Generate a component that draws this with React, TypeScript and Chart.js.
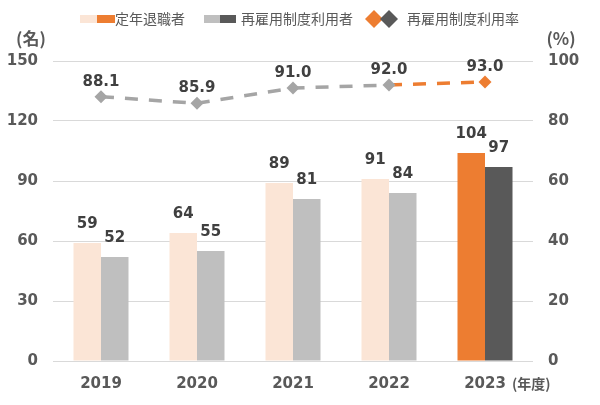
import React, { useEffect, useRef } from 'react';
import { Chart, registerables } from 'chart.js';

Chart.register(...registerables);

const categories = ['2019', '2020', '2021', '2022', '2023'];
const retirees = [59, 64, 89, 91, 104];
const rehired = [52, 55, 81, 84, 97];
const rehireRate = [88.1, 85.9, 91.0, 92.0, 93.0];
const leftAxis = { min: 0, max: 150, step: 30 };
const rightAxis = { min: 0, max: 100, step: 20 };
const legendLabels = ['定年退職者', '再雇用制度利用者', '再雇用制度利用率'];

const PEACH = '#FBE5D6';
const ORANGE = '#ED7D31';
const LGRAY = '#BFBFBF';
const DGRAY = '#595959';
const LINEGRAY = '#A5A5A5';
const TEXT = '#595959';
const LABEL = '#404040';
const NUMFONT = '"DejaVu Sans", Verdana, sans-serif';
const JPFONT = '"Noto Sans CJK JP", "Noto Sans", sans-serif';

const last = categories.length - 1;

const overlay = {
  id: 'overlay',
  afterDatasetsDraw(chart: any) {
    const ctx = chart.ctx;
    ctx.save();
    ctx.fillStyle = LABEL;
    ctx.textAlign = 'center';
    ctx.textBaseline = 'middle';
    ctx.font = `bold 15px ${NUMFONT}`;
    [0, 1].forEach((di) => {
      const meta = chart.getDatasetMeta(di);
      const data = chart.data.datasets[di].data;
      meta.data.forEach((el: any, i: number) => {
        ctx.fillText(String(data[i]), el.x, el.y - 19);
      });
    });
    const lm = chart.getDatasetMeta(2);
    lm.data.forEach((el: any, i: number) => {
      ctx.fillText(rehireRate[i].toFixed(1), el.x, el.y - 15);
    });
    ctx.restore();
  },
  afterDraw(chart: any) {
    const ctx = chart.ctx;
    ctx.save();
    // legend
    ctx.fillStyle = PEACH;
    ctx.fillRect(80, 15, 17, 8);
    ctx.fillStyle = ORANGE;
    ctx.fillRect(97, 15, 18, 8);
    ctx.fillStyle = LGRAY;
    ctx.fillRect(204, 15, 16, 8);
    ctx.fillStyle = DGRAY;
    ctx.fillRect(220, 15, 16, 8);
    const diamond = (cx: number, cy: number, r: number, c: string) => {
      ctx.fillStyle = c;
      ctx.beginPath();
      ctx.moveTo(cx, cy - r);
      ctx.lineTo(cx + r, cy);
      ctx.lineTo(cx, cy + r);
      ctx.lineTo(cx - r, cy);
      ctx.closePath();
      ctx.fill();
    };
    diamond(374, 19, 9, ORANGE);
    diamond(389, 19, 9, DGRAY);
    ctx.fillStyle = TEXT;
    ctx.textBaseline = 'middle';
    ctx.textAlign = 'left';
    ctx.font = `14px ${JPFONT}`;
    ctx.fillText(legendLabels[0], 115, 19);
    ctx.fillText(legendLabels[1], 241, 19);
    ctx.fillText(legendLabels[2], 407, 19);
    // axis titles
    ctx.font = `bold 17px ${JPFONT}`;
    ctx.textAlign = 'center';
    ctx.fillText('(名)', 31, 39);
    ctx.fillText('(%)', 561, 39);
    ctx.textAlign = 'left';
    ctx.font = `bold 14px ${JPFONT}`;
    ctx.fillText('(年度)', 512, 384);
    ctx.restore();
  },
};

export default function App() {
  const ref = useRef<HTMLCanvasElement>(null);
  useEffect(() => {
    document.body.style.margin = '0';
    const chart = new Chart(ref.current as HTMLCanvasElement, {
      type: 'bar',
      data: {
        labels: categories,
        datasets: [
          {
            type: 'bar',
            label: legendLabels[0],
            data: retirees,
            backgroundColor: categories.map((_, i) => (i === last ? ORANGE : PEACH)),
            categoryPercentage: 0.573,
            barPercentage: 1,
            yAxisID: 'y',
            order: 2,
          },
          {
            type: 'bar',
            label: legendLabels[1],
            data: rehired,
            backgroundColor: categories.map((_, i) => (i === last ? DGRAY : LGRAY)),
            categoryPercentage: 0.573,
            barPercentage: 1,
            yAxisID: 'y',
            order: 2,
          },
          {
            type: 'line',
            label: legendLabels[2],
            data: rehireRate,
            yAxisID: 'y1',
            borderWidth: 3.5,
            borderDash: [13, 11],
            borderColor: LINEGRAY,
            segment: {
              borderColor: (c: any) => (c.p1DataIndex === last ? ORANGE : LINEGRAY),
            },
            pointStyle: 'rectRot',
            pointRadius: 6.5,
            pointBorderWidth: 0,
            pointBackgroundColor: categories.map((_, i) => (i === last ? ORANGE : LINEGRAY)),
            fill: false,
            tension: 0,
            order: 0,
          } as any,
        ],
      },
      options: {
        responsive: false,
        animation: false,
        layout: { padding: { top: 61, left: 0, right: 0, bottom: 0 } },
        plugins: { legend: { display: false }, tooltip: { enabled: false } },
        scales: {
          x: {
            grid: { display: false, drawTicks: false },
            border: { display: false },
            ticks: { color: TEXT, font: { family: NUMFONT, size: 15, weight: 'bold' }, padding: 14 },
            afterFit: (s: any) => { s.height = 44; },
          },
          y: {
            position: 'left',
            min: leftAxis.min,
            max: leftAxis.max,
            ticks: { stepSize: leftAxis.step, color: TEXT, font: { family: NUMFONT, size: 15, weight: 'bold' }, padding: 15 },
            grid: { color: '#D9D9D9', lineWidth: 1, drawTicks: false },
            border: { display: false },
            afterFit: (s: any) => { s.width = 53; },
          },
          y1: {
            position: 'right',
            min: rightAxis.min,
            max: rightAxis.max,
            ticks: { stepSize: rightAxis.step, color: TEXT, font: { family: NUMFONT, size: 15, weight: 'bold' }, padding: 15 },
            grid: { display: false, drawTicks: false },
            border: { display: false },
            afterFit: (s: any) => { s.width = 67; },
          },
        },
      } as any,
      plugins: [overlay],
    });
    return () => chart.destroy();
  }, []);
  return <canvas ref={ref} width={600} height={405} />;
}
